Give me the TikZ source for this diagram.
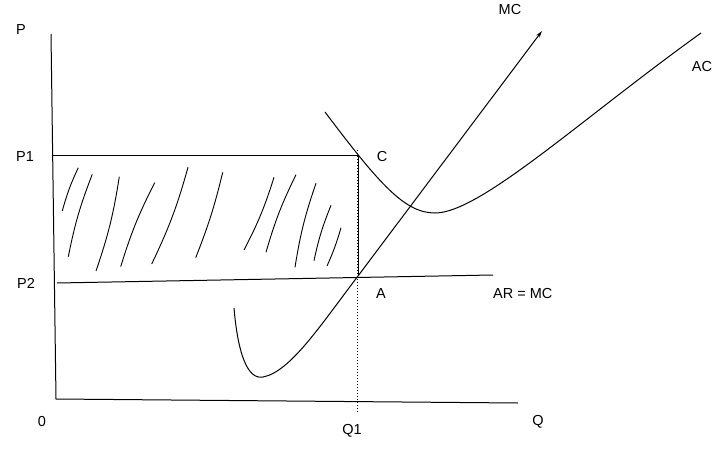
\documentclass[tikz,border=0pt]{standalone}
\usepackage{fontspec}
\setmainfont{Liberation Sans}
\usepackage{tikz}
\usetikzlibrary{positioning}
\usetikzlibrary{arrows.meta}

\begin{document}
\begin{tikzpicture}[x=1pt, y=1pt,
  line/.style={line width=1pt, color=black},
  hatch/.style={line width=0.9pt, color=black},
  lbl/.style={inner sep=0pt, font=\fontsize{14.5}{16}\selectfont}]
\useasboundingbox (0pt, 0pt) rectangle (719pt, -449pt);
\coordinate (ytop) at (51.0pt, -34.0pt);
\coordinate (o) at (56.0pt, -399.0pt);
\coordinate (xend) at (518.0pt, -403.0pt);
\coordinate (p1) at (51.5pt, -156.0pt);
\coordinate (c) at (358.0pt, -156.0pt);
\coordinate (p2) at (57.0pt, -283.0pt);
\coordinate (a) at (358.0pt, -276.0pt);
\coordinate (arend) at (493.0pt, -275.0pt);
\coordinate (q1top) at (357.0pt, -150.0pt);
\coordinate (q1bot) at (357.0pt, -413.0pt);
\coordinate (mcstart) at (234.0pt, -308.0pt);
\coordinate (mcmin) at (263.0pt, -377.0pt);
\coordinate (mctop) at (542.0pt, -31.0pt);
\coordinate (acstart) at (325.0pt, -112.0pt);
\coordinate (acmin) at (435.0pt, -213.0pt);
\coordinate (acend) at (701.0pt, -33.0pt);
% axes and box
\draw [line] (ytop) -- (o) -- (xend);
\draw [line] (p1) -- (c);
\draw [line] (p2) -- (arend);
\draw [line] (c) -- (a);
\draw [line, dotted] (q1top) -- (q1bot);
% cost curves
\draw [line, -{Stealth[length=7pt, width=4pt]}] (mcstart) .. controls (238.0pt, -355.0pt) and (248.0pt, -380.0pt) .. (mcmin) .. controls (290.0pt, -372.0pt) and (320.0pt, -326.0pt) .. (a) -- (mctop);
\draw [line] (acstart) .. controls (380.0pt, -185.0pt) and (405.0pt, -213.0pt) .. (acmin) .. controls (480.0pt, -213.0pt) and (580.0pt, -120.0pt) .. (acend);
% shading strokes
\draw [hatch] (78.3pt, -167.7pt) to[bend right=5] (62.3pt, -211.0pt);
\draw [hatch] (92.3pt, -174.3pt) to[bend right=5] (68.3pt, -256.7pt);
\draw [hatch] (119.3pt, -176.7pt) to[bend left=5] (96.0pt, -271.0pt);
\draw [hatch] (154.7pt, -182.7pt) to[bend right=5] (120.7pt, -266.7pt);
\draw [hatch] (188.0pt, -167.3pt) to[bend left=5] (151.7pt, -264.0pt);
\draw [hatch] (222.7pt, -172.3pt) to[bend left=4] (195.7pt, -257.7pt);
\draw [hatch] (274.0pt, -177.3pt) to[bend left=5] (244.0pt, -250.0pt);
\draw [hatch] (296.0pt, -174.7pt) to[bend right=5] (266.0pt, -252.3pt);
\draw [hatch] (316.0pt, -183.3pt) to[bend right=5] (295.0pt, -267.3pt);
\draw [hatch] (331.0pt, -205.3pt) to[bend right=5] (314.0pt, -260.7pt);
\draw [hatch] (341.0pt, -227.7pt) to[bend left=4] (327.0pt, -266.0pt);
% labels
\node (lp) [lbl] at (21.0pt, -30.0pt) {P};
\node (lp1) [lbl] at (25.0pt, -157.0pt) {P1};
\node (lp2) [lbl] at (26.0pt, -283.0pt) {P2};
\node (lo) [lbl] at (42.0pt, -422.0pt) {0};
\node (lq1) [lbl] at (352.0pt, -431.0pt) {Q1};
\node (lq) [lbl] at (538.0pt, -422.0pt) {Q};
\node (la) [lbl] at (381.0pt, -294.0pt) {A};
\node (lar) [lbl, anchor=west] at (493.0pt, -294.0pt) {AR = MC};
\node (lc) [lbl] at (382.0pt, -157.0pt) {C};
\node (lmc) [lbl] at (510.0pt, -10.0pt) {MC};
\node (lac) [lbl] at (702.0pt, -67.0pt) {AC};
\end{tikzpicture}
\end{document}
